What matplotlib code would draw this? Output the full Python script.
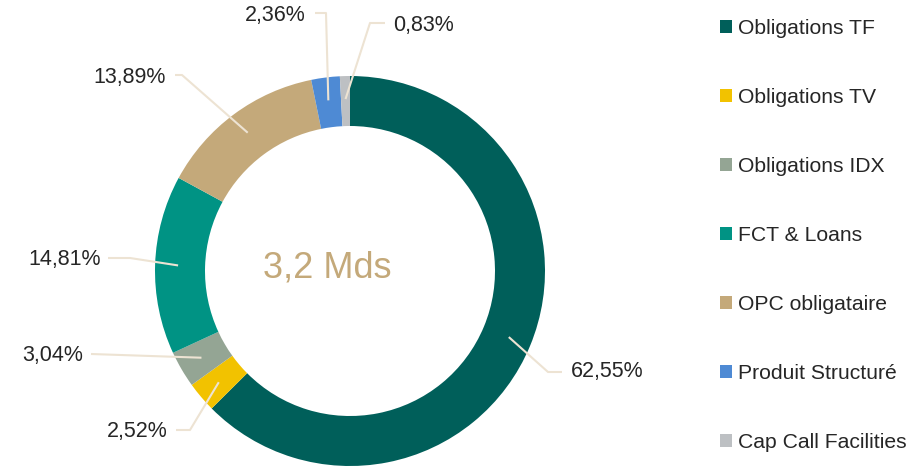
import matplotlib.pyplot as plt
import numpy as np
from matplotlib.patches import Patch

plt.rcParams['font.family'] = ['Liberation Sans', 'DejaVu Sans']

categories = ['Obligations TF', 'Obligations TV', 'Obligations IDX', 'FCT & Loans',
              'OPC obligataire', 'Produit Structuré', 'Cap Call Facilities']
values = [62.55, 2.52, 3.04, 14.81, 13.89, 2.36, 0.83]
labels = ['62,55%', '2,52%', '3,04%', '14,81%', '13,89%', '2,36%', '0,83%']
center_label = '3,2 Mds'
colors = ['#005F5A', '#F2C200', '#94A594', '#009384', '#C4A97A', '#4E8AD4', '#BDC0C3']

W, H = 915, 469
fig = plt.figure(figsize=(W / 100, H / 100), dpi=100)
ax = fig.add_axes([0, 0, 1, 1])

cx, cy, R = 350, H - 271, 195
wedges, _ = ax.pie(values, colors=colors, startangle=90, counterclock=False,
                   center=(cx, cy), radius=R, frame=True,
                   wedgeprops=dict(width=50, linewidth=0))
ax.set_xlim(0, W)
ax.set_ylim(0, H)
ax.set_aspect('equal')
ax.axis('off')

# label layout: elbow point, line end, text position, alignment (image px)
layout = [
    ((548, 372), (562, 372), (571, 372), 'left'),
    ((190, 430), (176, 430), (168, 432), 'right'),
    ((91, 354), (91, 354), (83, 355), 'right'),
    ((130, 258), (108, 258), (101, 259), 'right'),
    ((182, 75), (175, 75), (166, 77), 'right'),
    ((326, 13), (315, 13), (306, 15), 'right'),
    ((370, 23), (385, 23), (393, 25), 'left'),
]
for w, lab, (elb, end, tp, ha) in zip(wedges, labels, layout):
    ang = np.deg2rad((w.theta1 + w.theta2) / 2)
    r0 = 172
    px, py = cx + r0 * np.cos(ang), cy + r0 * np.sin(ang)
    ax.plot([px, elb[0], end[0]], [py, H - elb[1], H - end[1]],
            color='#EDE3D3', lw=1.5, solid_capstyle='butt', zorder=3)
    ax.text(tp[0], H - tp[1], lab, ha=ha, va='center', fontsize=15.5, color='#262626')

ax.text(327, H - 268, center_label, ha='center', va='center', fontsize=26,
        color='#C4A97A')

handles = [Patch(facecolor=c, edgecolor='none') for c in colors]
leg = ax.legend(handles, categories, loc='upper left', bbox_to_anchor=(720, H - 19),
                bbox_transform=ax.transData, frameon=False, fontsize=15.2,
                handlelength=0.55, handleheight=0.55, handletextpad=0.3,
                labelspacing=2.37, borderpad=0, borderaxespad=0)
for t in leg.get_texts():
    t.set_color('#262626')

fig.savefig('out.png', dpi=100)
